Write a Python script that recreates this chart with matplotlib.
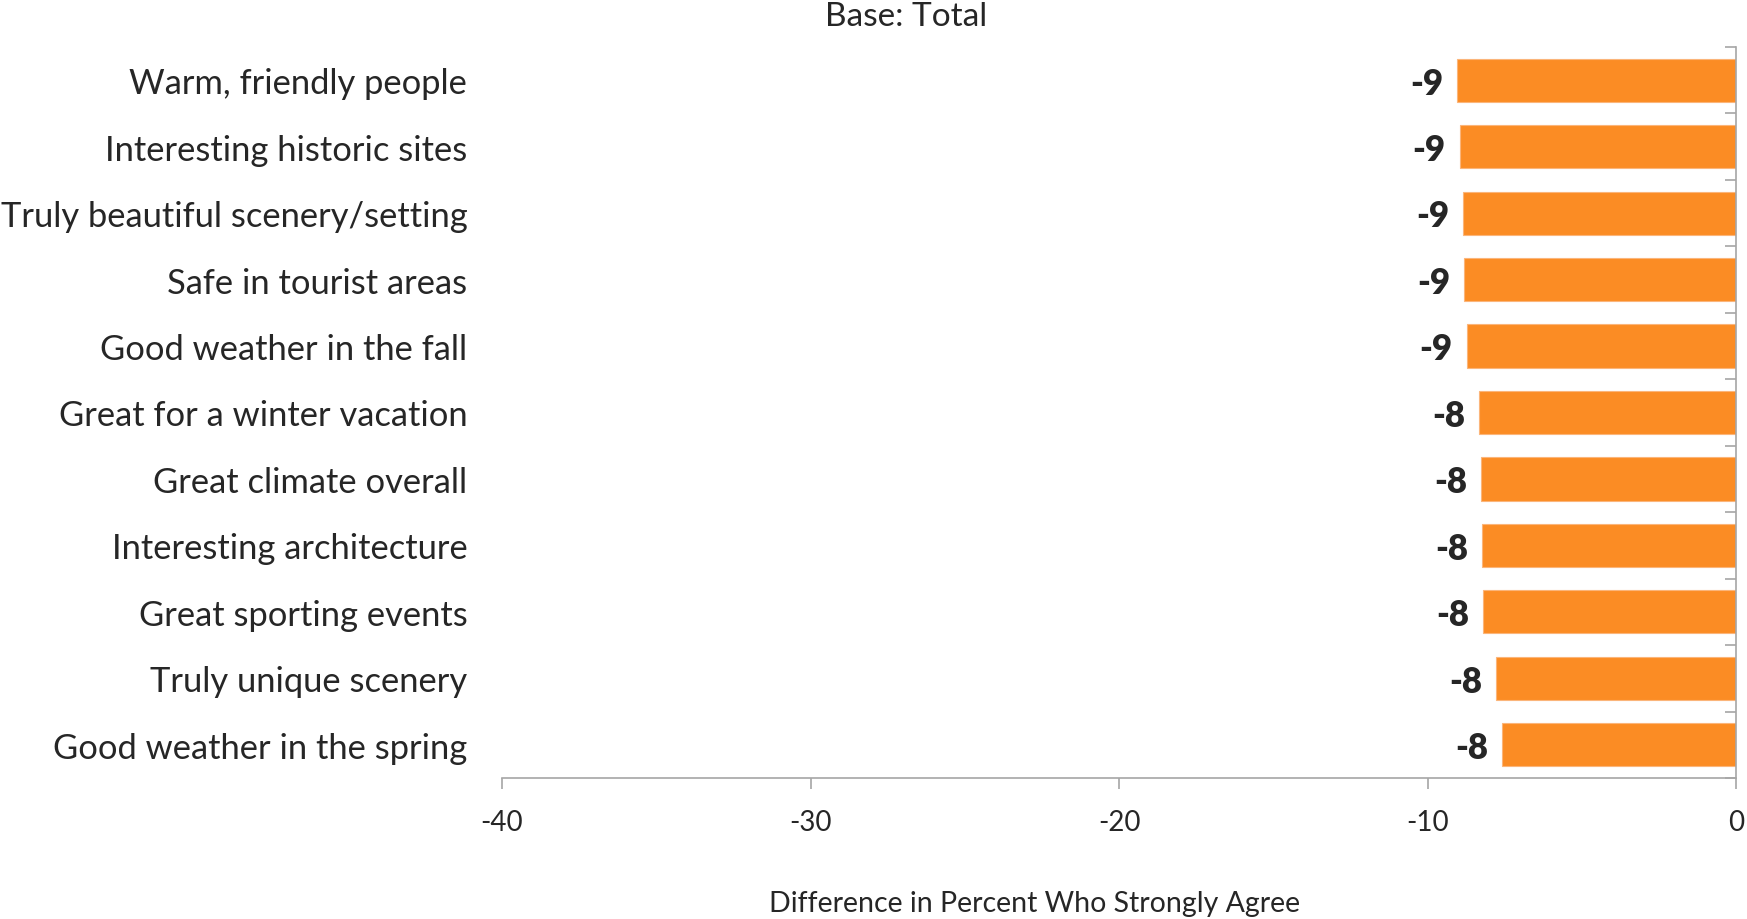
import matplotlib
matplotlib.use("Agg")
import matplotlib.pyplot as plt
from matplotlib.ticker import FixedLocator

categories = [
    "Warm, friendly people",
    "Interesting historic sites",
    "Truly beautiful scenery/setting",
    "Safe in tourist areas",
    "Good weather in the fall",
    "Great for a winter vacation",
    "Great climate overall",
    "Interesting architecture",
    "Great sporting events",
    "Truly unique scenery",
    "Good weather in the spring",
]
values = [-9.03, -8.96, -8.84, -8.81, -8.73, -8.34, -8.27, -8.23, -8.19, -7.77, -7.58]
x_ticks = [-40, -30, -20, -10, 0]

title = "Base: Total"
x_label = "Difference in Percent Who Strongly Agree"

W, H, DPI = 1747, 920, 100
plt.rcParams["font.family"] = ["Lato", "DejaVu Sans"]
text_color = "#262626"
axis_color = "#a6a6a6"
bar_color = "#FB8C24"

fig = plt.figure(figsize=(W / DPI, H / DPI), dpi=DPI)
ax_left, ax_right = 502 / W, 1736 / W
ax_top, ax_bottom = 1 - 48 / H, 1 - 779 / H
ax = fig.add_axes([ax_left, ax_bottom, ax_right - ax_left, ax_top - ax_bottom])

n = len(categories)
ypos = list(range(n))
ax.barh(ypos, values, height=0.65, color=bar_color, edgecolor="#fbb57a", linewidth=0.8, zorder=2)

ax.set_xlim(-40, 0)
ax.set_ylim(n - 0.5, -0.5)

for y, v in zip(ypos, values):
    ax.annotate(f"{v:.0f}", xy=(v, y), xytext=(-10, -2), textcoords="offset points",
                ha="right", va="center", fontsize=25, fontweight="heavy", color=text_color)

ax.set_yticks(ypos)
ax.set_yticklabels(categories, fontsize=24.8, color=text_color)
ax.tick_params(axis="y", which="major", length=0, pad=25)
ax.yaxis.set_minor_locator(FixedLocator([i - 0.5 for i in range(n + 1)]))
ax.tick_params(axis="y", which="minor", left=False, right=True, direction="in",
               length=8, width=1.2, color=axis_color)

ax.set_xticks(x_ticks)
ax.set_xticklabels([str(t) for t in x_ticks], fontsize=20, color=text_color)
ax.tick_params(axis="x", which="major", direction="out", length=8, width=1.2,
               color=axis_color, pad=14)

for side in ("left", "top"):
    ax.spines[side].set_visible(False)
for side in ("right", "bottom"):
    ax.spines[side].set_color(axis_color)
    ax.spines[side].set_linewidth(1.2)

fig.text(906 / W, 1 - 17 / H, title, ha="center", va="center", fontsize=24, color=text_color)
fig.text(1035 / W, 1 - 904 / H, x_label, ha="center", va="center", fontsize=20.5, color=text_color)

fig.savefig("out.png", dpi=DPI)
